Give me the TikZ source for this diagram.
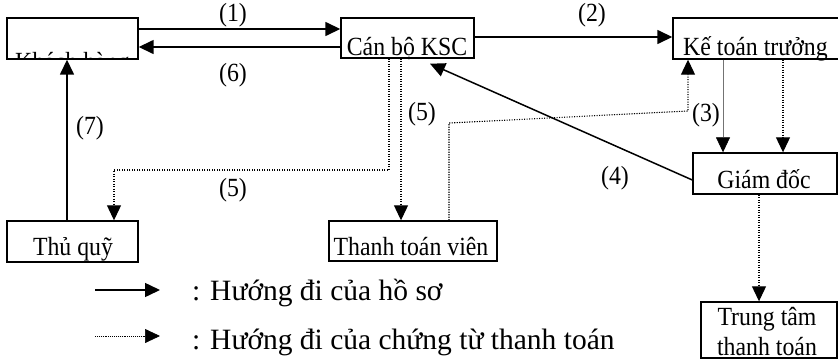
\documentclass[tikz,border=0pt]{standalone}
\usepackage{fontspec}
\usepackage{graphicx}
\setmainfont{Liberation Serif}
\usetikzlibrary{arrows.meta,calc}
% slightly condensed, taller lettering
\newcommand\tallt[1]{\scalebox{1}[1.1]{#1}}
\begin{document}
\begin{tikzpicture}[x=1pt,y=-1pt,
  box/.style={draw,line width=1.4pt,rectangle,inner sep=0pt},
  boxtext/.style={inner sep=0pt,anchor=base,font=\fontsize{23.8}{28}\selectfont},
  lbl/.style={inner sep=0pt,font=\fontsize{23.8}{28}\selectfont},
  legtext/.style={inner sep=0pt,anchor=base west,font=\fontsize{29.5}{34}\selectfont},
  tip/.style={-{Triangle[length=15pt,width=14pt,color=black]}},
  flow/.style={tip,line width=1.5pt},
  doc/.style={tip,line width=1.1pt,dash pattern=on 1.1pt off 1.4pt},
  thinflow/.style={tip,line width=0.7pt,draw=black!55}
]
\useasboundingbox (0,0) rectangle (838,359);
\clip (0,0) rectangle (838,359);

% boxes
\node[box,minimum width=131pt,minimum height=41pt] (kh)  at (72.5,38.5) {};
\node[box,minimum width=133pt,minimum height=40pt] (ksc) at (407.5,38) {};
\node[box,minimum width=172pt,minimum height=41pt] (ktt) at (759,38.5) {};
\node[box,minimum width=144pt,minimum height=41pt] (gd)  at (765,173.5) {};
\node[box,minimum width=131pt,minimum height=41pt] (tq)  at (72.5,241.5) {};
\node[box,minimum width=168pt,minimum height=40pt] (ttv) at (413,241) {};
\node[box,minimum width=136pt,minimum height=56pt] (ttt) at (769,330) {};

% box texts
\begin{scope}
  \clip (kh.south west) rectangle (kh.north east);
  \node[boxtext,anchor=base west] (khtext) at (15,70.5) {\tallt{Khách hàng}};
\end{scope}
\node[boxtext] (ksctext) at (407,55) {\tallt{Cán bộ KSC}};
\node[boxtext,anchor=base west] (ktttext) at (683,55) {\tallt{Kế toán trưởng}};
\node[boxtext] (gdtext) at (764,188) {\tallt{Giám đốc}};
\node[boxtext] (tqtext) at (73,255) {\tallt{Thủ quỹ}};
\node[boxtext] (ttvtext) at (411,255) {\tallt{Thanh toán viên}};
\node[boxtext] (ttttexta) at (767,325) {\tallt{Trung tâm}};
\node[boxtext] (ttttextb) at (767,355) {\tallt{thanh toán}};

% document flow (solid)
\draw[flow] (kh.east |- 0,29) -- (ksc.west |- 0,29);
\draw[flow] (ksc.west |- 0,47) -- (kh.east |- 0,47);
\draw[flow] (ksc.east |- 0,37) -- (ktt.west |- 0,37);
\draw[flow] (tq.north -| 67,0) -- (kh.south -| 67,0);
\draw[flow] (gd.west |- 0,180) -- ($(ksc.south -| 430,0)+(0,5)$);
\draw[thinflow] (ktt.south -| 723,0) -- (gd.north -| 723,0);

% payment voucher flow (dotted)
\draw[doc] (ktt.south -| 783,0) -- (gd.north -| 783,0);
\draw[doc] (ksc.south -| 389,0) -- (389,170) -- (114,170) -- (tq.north -| 114,0);
\draw[doc] (ksc.south -| 401,0) -- (ttv.north -| 401,0);
\draw[doc] (ttv.north -| 449,0) -- (449,123) -- (688,111) -- (ktt.south -| 688,0);
\draw[doc] (gd.south -| 759,0) -- (ttt.north -| 759,0);

% step numbers
\node[lbl] (s1) at (233,15) {\tallt{(1)}};
\node[lbl] (s6) at (233,75) {\tallt{(6)}};
\node[lbl] (s2) at (592,15) {\tallt{(2)}};
\node[lbl] (s7) at (90,128) {\tallt{(7)}};
\node[lbl] (s5a) at (422,114) {\tallt{(5)}};
\node[lbl] (s3) at (706,115) {\tallt{(3)}};
\node[lbl] (s4) at (615,178) {\tallt{(4)}};
\node[lbl] (s5b) at (233,190) {\tallt{(5)}};

% legend
\coordinate (lega) at (95,290);
\coordinate (legb) at (160,290);
\draw[flow] (lega) -- (legb);
\node[legtext] (legone) at (192,300) {: Hướng đi của hồ sơ};
\coordinate (legc) at (95,336);
\coordinate (legd) at (160,336);
\draw[doc,line width=0.7pt,dash pattern=on 0.7pt off 1.2pt] (legc) -- (legd);
\node[legtext] (legtwo) at (192,349) {: Hướng đi của chứng từ thanh toán};
\end{tikzpicture}
\end{document}
